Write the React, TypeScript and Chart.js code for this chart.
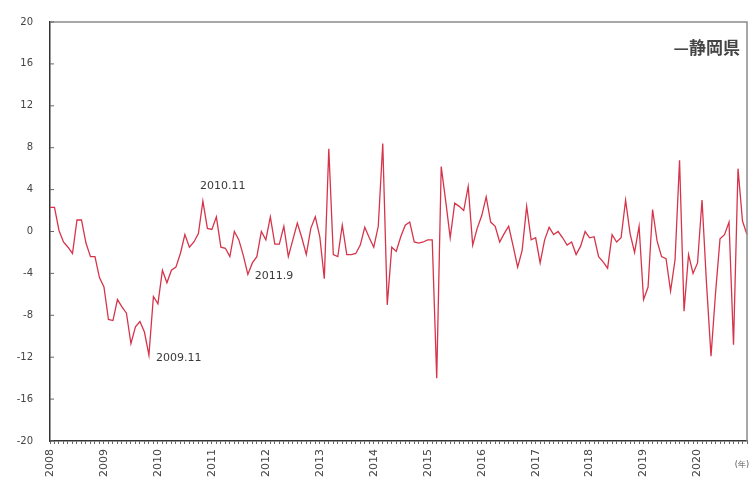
import React, { useEffect, useRef } from 'react';
import { Chart, registerables } from 'chart.js';

Chart.register(...registerables);

const YEARS = [2008, 2009, 2010, 2011, 2012, 2013, 2014, 2015, 2016, 2017, 2018, 2019, 2020];
const MONTHS = [1, 2, 3, 4, 5, 6, 7, 8, 9, 10, 11, 12];

// Category labels "YYYY.M"
const categories: string[] = YEARS.flatMap((y) => MONTHS.map((m) => `${y}.${m}`));

// 静岡県 (前年同月比, %)
const values2008 = [2.3, 2.3, 0.1, -1.0, -1.5, -2.1, 1.1, 1.1, -1.1, -2.4, -2.4, -4.4];
const values2009 = [-5.3, -8.4, -8.5, -6.5, -7.2, -7.8, -10.7, -9.1, -8.6, -9.6, -11.8, -6.2];
const values2010 = [-6.9, -3.7, -4.9, -3.7, -3.4, -2.1, -0.3, -1.5, -1.0, -0.2, 2.9, 0.3];
const values2011 = [0.2, 1.4, -1.5, -1.6, -2.4, 0.0, -0.8, -2.3, -4.1, -3.0, -2.4, 0.0];
const values2012 = [-0.8, 1.4, -1.2, -1.2, 0.5, -2.4, -0.8, 0.8, -0.6, -2.2, 0.3, 1.4];
const values2013 = [-0.5, -4.5, 7.9, -2.2, -2.4, 0.6, -2.2, -2.2, -2.1, -1.3, 0.4, -0.6];
const values2014 = [-1.5, 0.5, 8.4, -7.0, -1.5, -1.9, -0.5, 0.6, 0.9, -1.0, -1.1, -1.0];
const values2015 = [-0.8, -0.8, -14.0, 6.2, 2.9, -0.6, 2.7, 2.4, 2.0, 4.3, -1.3, 0.3];
const values2016 = [1.5, 3.3, 0.9, 0.5, -1.0, -0.2, 0.5, -1.4, -3.4, -1.8, 2.4, -0.8];
const values2017 = [-0.6, -3.0, -0.8, 0.4, -0.3, 0.0, -0.6, -1.3, -1.0, -2.2, -1.4, 0.0];
const values2018 = [-0.6, -0.5, -2.4, -2.9, -3.5, -0.3, -1.0, -0.6, 3.0, -0.2, -2.0, 0.5];
const values2019 = [-6.5, -5.3, 2.1, -0.9, -2.4, -2.6, -5.7, -2.7, 6.8, -7.6, -2.2, -4.0];
const values2020 = [-3.0, 3.0, -5.0, -11.9, -5.9, -0.7, -0.3, 0.9, -10.8, 6.0, 1.0, -0.3];

const shizuoka: number[] = [
  ...values2008, ...values2009, ...values2010, ...values2011, ...values2012,
  ...values2013, ...values2014, ...values2015, ...values2016, ...values2017,
  ...values2018, ...values2019, ...values2020,
];

const Y_MIN = -20;
const Y_MAX = 20;
const Y_STEP = 4;

const SERIES_NAME = '静岡県';
const ANNOTATION_LABELS = ['2009.11', '2010.11', '2011.9'];
const UNIT_LABEL = '(年)';

const LINE_COLOR = '#d6344a';
const TEXT_COLOR = '#3a3a3a';
const NUM_FONT = '"DejaVu Sans", "Liberation Sans", sans-serif';

export default function App() {
  const canvasRef = useRef<HTMLCanvasElement | null>(null);

  useEffect(() => {
    const canvas = canvasRef.current;
    if (!canvas) return;

    const decorPlugin = {
      id: 'decor',
      afterDraw(chart: any) {
        const { ctx, chartArea, scales } = chart;
        const xs = scales.x;
        const ys = scales.y;
        ctx.save();
        // top & right frame
        ctx.strokeStyle = '#8a8a8a';
        ctx.lineWidth = 1.5;
        ctx.beginPath();
        ctx.moveTo(chartArea.left, chartArea.top);
        ctx.lineTo(chartArea.right, chartArea.top);
        ctx.lineTo(chartArea.right, chartArea.bottom);
        ctx.stroke();

        // inside ticks on y axis
        ctx.strokeStyle = '#666';
        ctx.lineWidth = 1;
        ys.ticks.forEach((t: any) => {
          const y = ys.getPixelForValue(t.value);
          ctx.beginPath();
          ctx.moveTo(chartArea.left, y);
          ctx.lineTo(chartArea.left + 4, y);
          ctx.stroke();
        });

        // legend
        ctx.fillStyle = '#444';
        ctx.font = 'bold 17px "Noto Sans CJK JP", sans-serif';
        ctx.textAlign = 'right';
        ctx.textBaseline = 'middle';
        ctx.fillText('—' + SERIES_NAME, chartArea.right - 7, chartArea.top + 26);

        // annotations
        ctx.font = `11px ${NUM_FONT}`;
        ctx.fillStyle = TEXT_COLOR;
        ctx.textAlign = 'left';
        ANNOTATION_LABELS.forEach((lab) => {
          const idx = categories.indexOf(lab);
          if (idx < 0) return;
          const px = xs.getPixelForValue(idx);
          const py = ys.getPixelForValue(shizuoka[idx]);
          if (lab === '2010.11') {
            ctx.fillText(lab, px - 3, py - 15);
          } else if (lab === '2011.9') {
            ctx.fillText(lab, px + 7, py + 2);
          } else {
            ctx.fillText(lab, px + 7, py + 3);
          }
        });

        // unit
        ctx.font = `8px ${NUM_FONT}`;
        ctx.fillStyle = '#555';
        ctx.textAlign = 'right';
        ctx.fillText(UNIT_LABEL, chartArea.right + 2, chartArea.bottom + 24);
        ctx.restore();
      },
    };

    const chart = new Chart(canvas, {
      type: 'line',
      data: {
        labels: categories,
        datasets: [
          {
            label: SERIES_NAME,
            data: shizuoka,
            borderColor: LINE_COLOR,
            borderWidth: 1.3,
            pointRadius: 0,
            tension: 0,
            fill: false,
          },
        ],
      },
      options: {
        animation: false,
        responsive: false,
        maintainAspectRatio: false,
        layout: { padding: { top: 22, right: 4, left: 0, bottom: 0 } },
        plugins: {
          legend: { display: false },
          tooltip: { enabled: false },
        },
        scales: {
          x: {
            type: 'category',
            offset: false,
            grid: {
              display: true,
              drawOnChartArea: false,
              drawTicks: true,
              tickLength: 3,
              color: '#666',
              lineWidth: 1,
            },
            border: { display: true, color: '#333', width: 1.5 },
            ticks: {
              autoSkip: false,
              maxRotation: 90,
              minRotation: 90,
              padding: 5,
              color: '#444',
              font: { size: 11, family: NUM_FONT },
              callback: (_v: any, i: number) => {
                const c = categories[i];
                return c && c.endsWith('.1') && !c.endsWith('11') ? c.slice(0, 4) : '';
              },
            },
            afterFit: (scale: any) => {
              scale.height = 38;
              scale.paddingLeft = 0;
              scale.paddingRight = 0;
            },
          },
          y: {
            min: Y_MIN,
            max: Y_MAX,
            grid: { display: false, drawTicks: false },
            border: { display: true, color: '#333', width: 1.5 },
            ticks: {
              stepSize: Y_STEP,
              padding: 17,
              color: '#444',
              font: { size: 10, family: NUM_FONT },
            },
            afterFit: (scale: any) => {
              scale.width = 50;
              scale.paddingTop = 0;
              scale.paddingBottom = 0;
            },
          },
        },
      },
      plugins: [decorPlugin],
    } as any);

    return () => chart.destroy();
  }, []);

  return (
    <div style={{ position: 'fixed', left: 0, top: 0, width: 751, height: 479, background: '#fff' }}>
      <canvas ref={canvasRef} width={751} height={479} style={{ display: 'block' }} />
    </div>
  );
}
